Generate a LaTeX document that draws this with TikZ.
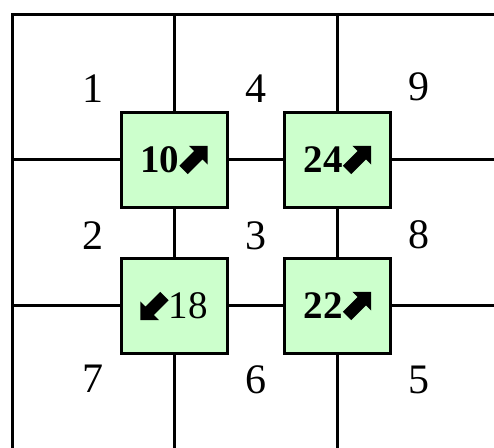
\documentclass[tikz,border=0pt]{standalone}
\usepackage{fontspec}
\setmainfont{Liberation Serif}
\usetikzlibrary{positioning}
\definecolor{boxgreen}{HTML}{CCFFCC}
% heavy arrow glyph, drawn pointing east and then turned
\newcommand{\heavyarr}[1]{\tikz[x=1pt, y=1pt, baseline={([yshift=1pt]current bounding box.south)}]
	\fill[black, rotate=#1] (0,-3) -- (10.4,-3) -- (10.4,-6.6) -- (17,0) -- (10.4,6.6) -- (10.4,3) -- (0,3) -- cycle;}
\newcommand{\nearr}{\heavyarr{45}}
\newcommand{\swarr}{\heavyarr{225}}
\tikzset{
	gridline/.style={draw=black, line width=1.5pt}
}
\tikzset{
	celltext/.style={font=\fontsize{21}{21}\selectfont}
}

\begin{document}
\begin{tikzpicture}[x=0.5pt, y=-0.5pt]
			\tikzset{
				cellbox/.style={
						shape=rectangle,
						draw=black,
						line width=1.5pt,
						fill=boxgreen,
						minimum width=53pt,
						minimum height=47.5pt,
						inner sep=0pt,
						font=\fontsize{19.5}{19.5}\selectfont\bfseries
					}
			}
			\useasboundingbox (0,0) rectangle (494,448);

			% frame
			\coordinate (tl) at (12,15);
			\coordinate (tr) at (494,15);
			\coordinate (bl) at (12,448);
			\draw[gridline] (tr) -- (tl) -- (bl);

			% free ends of the inner lines
			\coordinate (t1) at (174,15);
			\coordinate (t2) at (337.5,15);
			\coordinate (d1) at (174,448);
			\coordinate (d2) at (337.5,448);
			\coordinate (l1) at (12,160);
			\coordinate (l2) at (12,306);
			\coordinate (r1) at (494,160);
			\coordinate (r2) at (494,306);

			\node[cellbox] (b10) at (174,160) {10\nearr};
			\node[cellbox] (b24) at (337.5,160) {24\nearr};
			\node[cellbox] (b18) at (174,306) {\swarr\mdseries18};
			\node[cellbox] (b22) at (337.5,306) {22\nearr};

			\draw[gridline] (t1) -- (b10) -- (b18) -- (d1);
			\draw[gridline] (t2) -- (b24) -- (b22) -- (d2);
			\draw[gridline] (l1) -- (b10) -- (b24) -- (r1);
			\draw[gridline] (l2) -- (b18) -- (b22) -- (r2);

			\node[celltext] (c1) at (93,89) {1};
			\node[celltext] (c4) at (256,89) {4};
			\node[celltext] (c9) at (419,87) {9};
			\node[celltext] (c2) at (93,236) {2};
			\node[celltext] (c3) at (256,236) {3};
			\node[celltext] (c8) at (419,235) {8};
			\node[celltext] (c7) at (93,379) {7};
			\node[celltext] (c6) at (256,380) {6};
			\node[celltext] (c5) at (419,380) {5};
		\end{tikzpicture}
\end{document}
